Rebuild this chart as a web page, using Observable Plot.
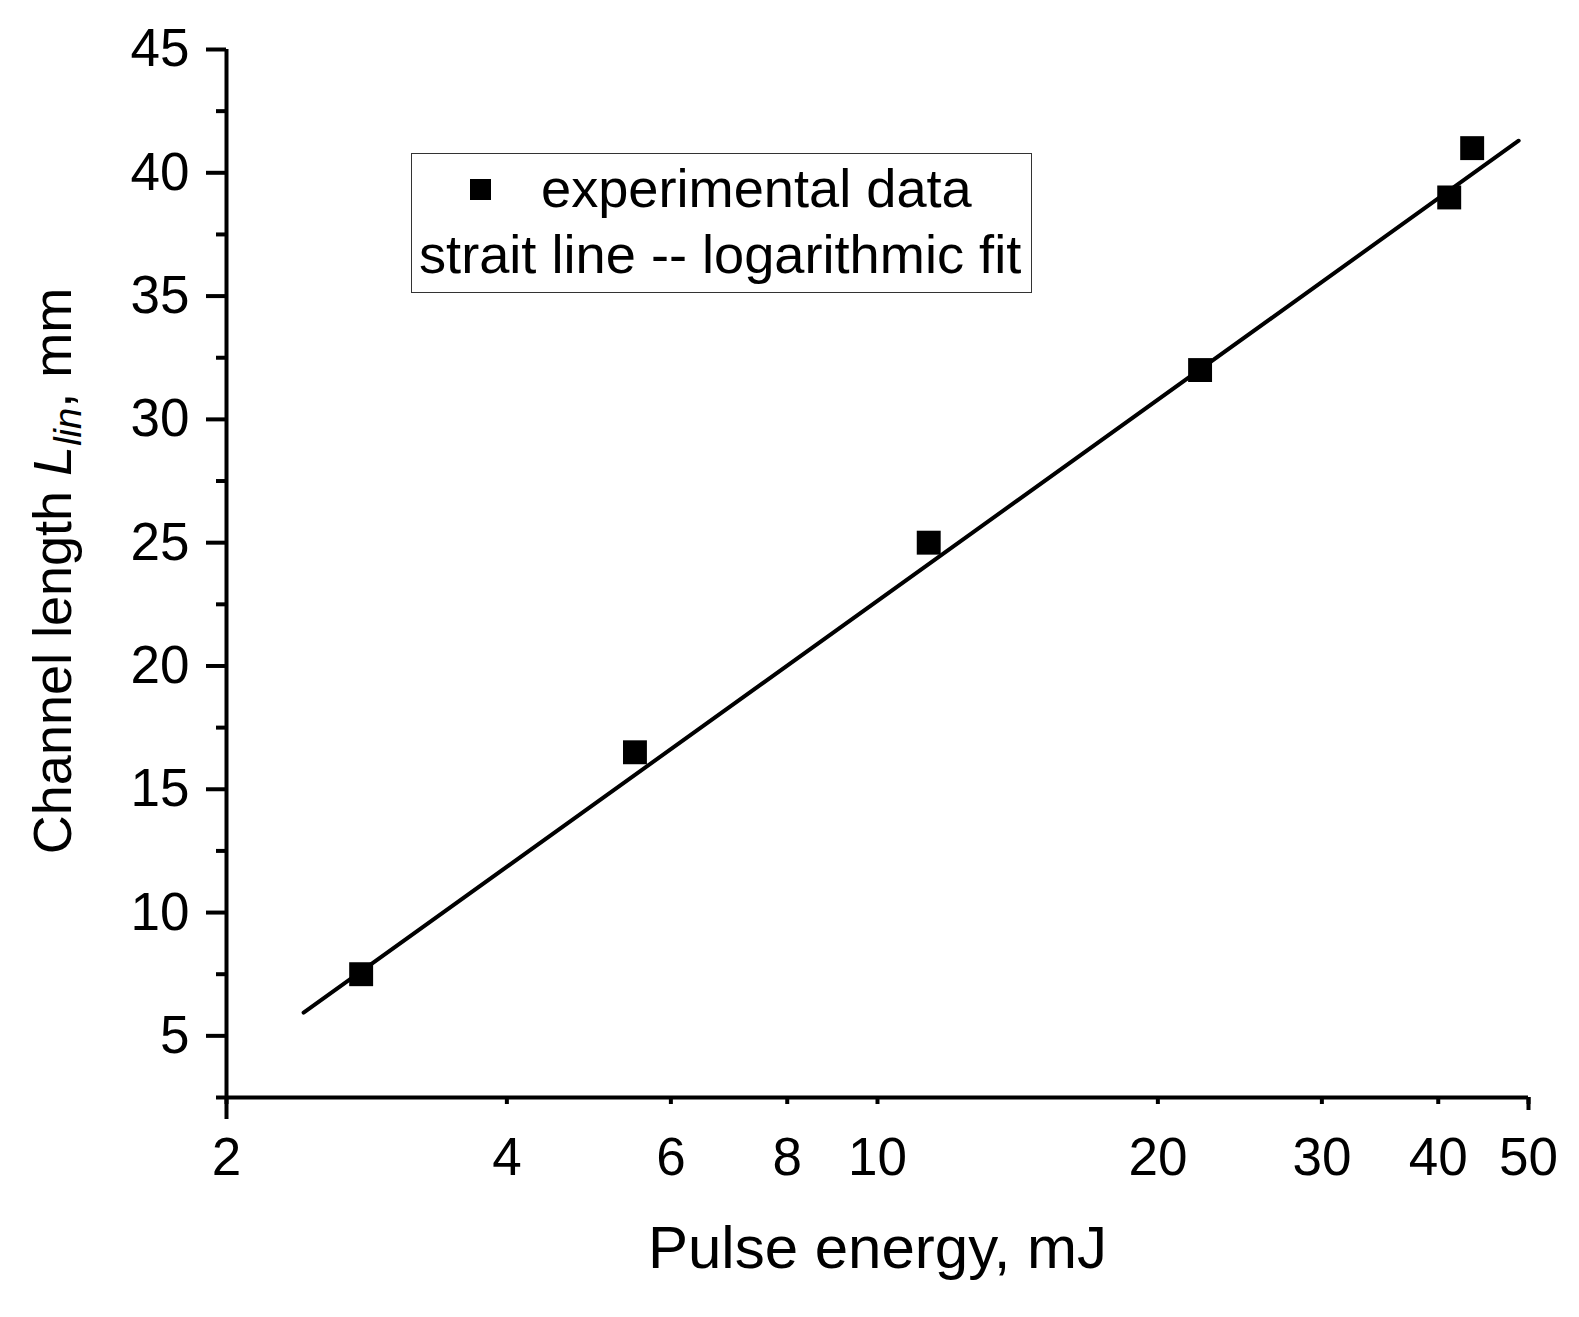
<!DOCTYPE html>
<html><head><meta charset="utf-8">
<script src="https://cdn.jsdelivr.net/npm/d3@7"></script>
<script src="https://cdn.jsdelivr.net/npm/@observablehq/plot@0.6"></script>
<style>
html,body{margin:0;padding:0;background:#fff;overflow:hidden;}
#wrap{position:relative;width:1579px;height:1317px;overflow:hidden;font-family:"Liberation Sans",Arial,sans-serif;}
#wrap svg{display:block;}
#legend{position:absolute;left:411px;top:153px;width:619px;height:138px;border:1.5px solid #333;background:#fff;font-size:54.2px;line-height:55px;color:#000;}
#legend .sq{position:absolute;left:58px;top:25px;width:21px;height:21px;background:#000;}
#legend .t1{position:absolute;left:129px;top:7px;white-space:nowrap;}
#legend .t2{position:absolute;left:7px;top:73px;white-space:nowrap;}
</style></head>
<body><div id="wrap"></div>
<script>
const energy = [2.79, 5.49, 11.35, 22.2, 41.1, 43.5];
const channelLength = [7.5, 16.5, 25, 32, 39, 41];
const fitEnergy = [2.42, 48.8];
const fitLength = [5.94, 41.3];
const xTicks = [2, 4, 6, 8, 10, 20, 30, 40, 50];
const yTicks = [5, 10, 15, 20, 25, 30, 35, 40, 45];
const yMinorTicks = [2.5, 7.5, 12.5, 17.5, 22.5, 27.5, 32.5, 37.5, 42.5];
const legendLabels = ["experimental data", "strait line -- logarithmic fit"];
const xLabel = "Pulse energy, mJ";

const points = energy.map((e, i) => ({energy: e, length: channelLength[i]}));
const fit = fitEnergy.map((e, i) => ({energy: e, length: fitLength[i]}));

const chart = Plot.plot({
  width: 1579, height: 1317,
  marginLeft: 226, marginRight: 51, marginTop: 49, marginBottom: 220,
  style: {fontFamily: "Liberation Sans, Arial, sans-serif", background: "#fff", color: "#000"},
  x: {type: "log", domain: [2, 50]},
  y: {domain: [2.5, 45]},
  marks: [
    Plot.line(fit, {x: "energy", y: "length", stroke: "#000", strokeWidth: 4}),
    Plot.dot(points, {x: "energy", y: "length", symbol: "square", r: 13.5, fill: "#000", stroke: null}),
    Plot.axisY(yMinorTicks, {tickSize: 10, tickFormat: () => "", strokeWidth: 4, label: null}),
    Plot.axisY(yTicks, {tickSize: 20, tickPadding: 17, fontSize: 53, strokeWidth: 4, label: null, tickFormat: d => String(d)}),
    Plot.axisX(xTicks, {tickSize: 7, tickPadding: 33, fontSize: 53, strokeWidth: 4, label: null, tickFormat: d => String(d)}),
    Plot.axisX([2], {tickSize: 22, tickFormat: () => "", strokeWidth: 4, label: null}),
    Plot.axisX([50], {tickSize: 13, tickFormat: () => "", strokeWidth: 4, label: null}),
    Plot.ruleX([2], {strokeWidth: 4}),
    Plot.ruleY([2.5], {strokeWidth: 4}),
    Plot.text([xLabel], {frameAnchor: "bottom", dy: 170, fontSize: 60, fill: "#000"})
  ]
});

const svg = d3.select(chart);
const t = svg.append("text")
  .attr("transform", "translate(71,571) rotate(-90)")
  .attr("text-anchor", "middle")
  .attr("font-size", 54)
  .attr("fill", "#000");
t.append("tspan").text("Channel length ");
t.append("tspan").attr("font-style", "italic").text("L");
t.append("tspan").attr("font-style", "italic").attr("font-size", 38).attr("dy", 10).text("lin");
t.append("tspan").attr("dy", -10).text(", mm");

const wrap = document.getElementById("wrap");
wrap.appendChild(chart);
const legend = document.createElement("div");
legend.id = "legend";
legend.innerHTML = `<div class="sq"></div><span class="t1">${legendLabels[0]}</span><span class="t2">${legendLabels[1]}</span>`;
wrap.appendChild(legend);
</script>
</body></html>
